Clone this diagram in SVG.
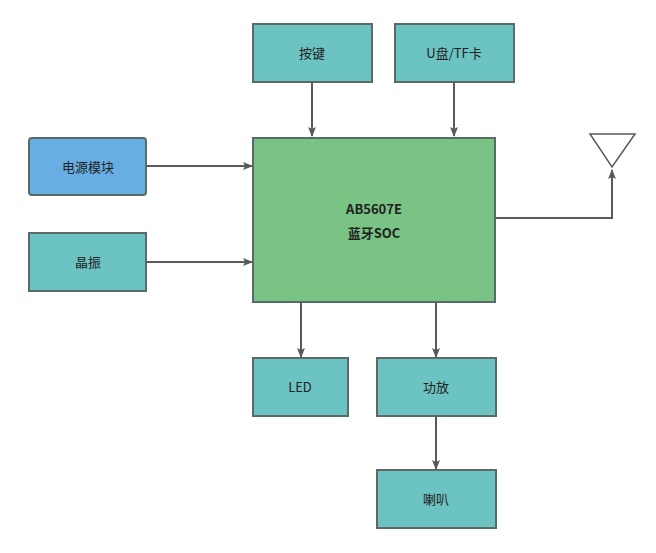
<svg xmlns="http://www.w3.org/2000/svg" width="656" height="553" viewBox="0 0 656 553">
<style>
.b{fill:#6cc4c2;stroke:#5a6a68;stroke-width:2}
.t{font-family:"Noto Sans CJK SC","Liberation Sans",sans-serif;font-size:13px;fill:#222;text-anchor:middle}
.c{stroke:#595959;stroke-width:2;fill:none;marker-end:url(#a)}
</style>
<defs><marker id="a" markerWidth="10" markerHeight="8" refX="9" refY="4" orient="auto" markerUnits="userSpaceOnUse"><path d="M0,0L10,4L0,8L2,4Z" fill="#595959"/></marker></defs>
<rect width="656" height="553" fill="#fff"/>
<g id="anj"><rect class="b" x="253" y="24" width="119" height="58"/><text class="t" x="312" y="58">按键</text></g>
<g id="udisk"><rect class="b" x="395" y="24" width="119" height="58"/><text class="t" x="454" y="58">U盘/TF卡</text></g>
<g id="power"><rect x="29" y="138" width="117" height="57" rx="3" fill="#66aee3" stroke="#5a6a68" stroke-width="2"/><text class="t" x="88" y="172">电源模块</text></g>
<g id="xtal"><rect class="b" x="29" y="233" width="117" height="58"/><text class="t" x="88" y="267">晶振</text></g>
<g id="soc"><rect x="253" y="138" width="242" height="164" fill="#79c384" stroke="#5a6a68" stroke-width="2"/><text class="t" x="374" y="214" font-weight="bold">AB5607E</text><text class="t" x="374" y="238" font-weight="bold">蓝牙SOC</text></g>
<g id="antenna"><polygon points="590,134 635,134 612,167" fill="#fff" stroke="#595959" stroke-width="1.5"/></g>
<g id="led"><rect class="b" x="253" y="358" width="95" height="58"/><text class="t" x="300" y="392">LED</text></g>
<g id="amp"><rect class="b" x="377" y="358" width="119" height="58"/><text class="t" x="436" y="392">功放</text></g>
<g id="spk"><rect class="b" x="377" y="470" width="119" height="58"/><text class="t" x="436" y="504">喇叭</text></g>
<g id="connectors">
<path class="c" d="M312,82V136"/>
<path class="c" d="M454,82V136"/>
<path class="c" d="M147,166H252"/>
<path class="c" d="M147,262H252"/>
<path class="c" d="M496,218H612V170"/>
<path class="c" d="M301,302V357"/>
<path class="c" d="M436,302V357"/>
<path class="c" d="M436,416V469"/>
</g>
</svg>
